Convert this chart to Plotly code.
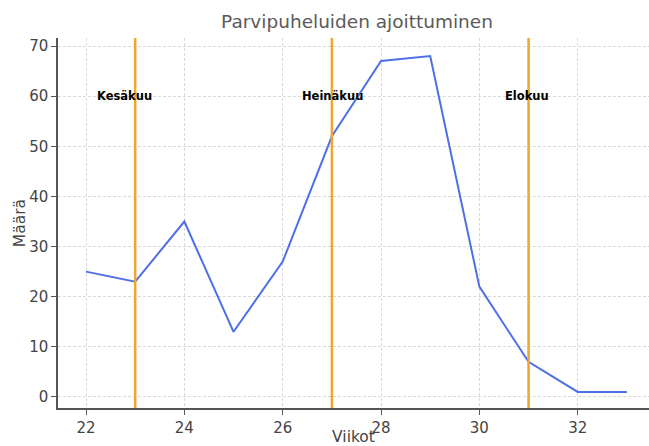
import plotly.graph_objects as go

weeks = [22, 23, 24, 25, 26, 27, 28, 29, 30, 31, 32, 33]
counts = [25, 23, 35, 13, 27, 52, 67, 68, 22, 7, 1, 1]
month_weeks = [23, 27, 31]
month_names = ["Kesäkuu", "Heinäkuu", "Elokuu"]
label_x = [22.78, 27.02, 30.96]
label_y = 60

fig = go.Figure()
fig.add_trace(go.Scatter(x=weeks, y=counts, mode="lines",
                         line=dict(color="#4F6FE6", width=2), showlegend=False))
for w in month_weeks:
    fig.add_shape(type="line", xref="x", yref="paper", x0=w, x1=w, y0=0, y1=1,
                  line=dict(color="#EFA52F", width=2.5))
for name, lx in zip(month_names, label_x):
    fig.add_annotation(x=lx, y=label_y, text="<b>" + name + "</b>", showarrow=False,
                       font=dict(family="DejaVu Sans", size=11.5, color="black"),
                       xanchor="center", yanchor="middle")

fig.update_layout(
    width=649, height=446,
    margin=dict(l=58, r=0, t=38, b=38, autoexpand=False),
    plot_bgcolor="white", paper_bgcolor="white",
    title=dict(text="Parvipuheluiden ajoittuminen", x=357 / 649, xref="container",
               xanchor="center", y=1 - 22 / 446, yref="container", yanchor="middle",
               font=dict(family="DejaVu Sans", size=18.5, color="#5a5a5a")),
    font=dict(family="DejaVu Sans", color="#444444"),
)
fig.update_xaxes(range=[21.43, 33.45], tickvals=[22, 24, 26, 28, 30, 32],
                 showgrid=True, gridcolor="#d8d8d8", griddash="3px,2px", gridwidth=1,
                 showline=True, linecolor="#555555", linewidth=1.5,
                 ticks="outside", ticklen=5, tickcolor="#555555", automargin=False,
                 tickfont=dict(size=15, color="#444444"), zeroline=False,
                 title=dict(text="Viikot", font=dict(size=15.5, color="#444444"), standoff=14))
fig.update_yaxes(range=[-2.2, 71.6], tickvals=[0, 10, 20, 30, 40, 50, 60, 70],
                 showgrid=True, gridcolor="#d8d8d8", griddash="3px,2px", gridwidth=1,
                 showline=True, linecolor="#555555", linewidth=1.5,
                 ticks="outside", ticklen=5, tickcolor="#555555", automargin=False,
                 tickfont=dict(size=15, color="#444444"), zeroline=False,
                 title=dict(text="Määrä", font=dict(size=15.5, color="#444444"), standoff=0))

fig.write_html("out.html", config={"displayModeBar": False},
               post_script="document.body.style.margin='0';document.body.style.overflow='hidden';")
